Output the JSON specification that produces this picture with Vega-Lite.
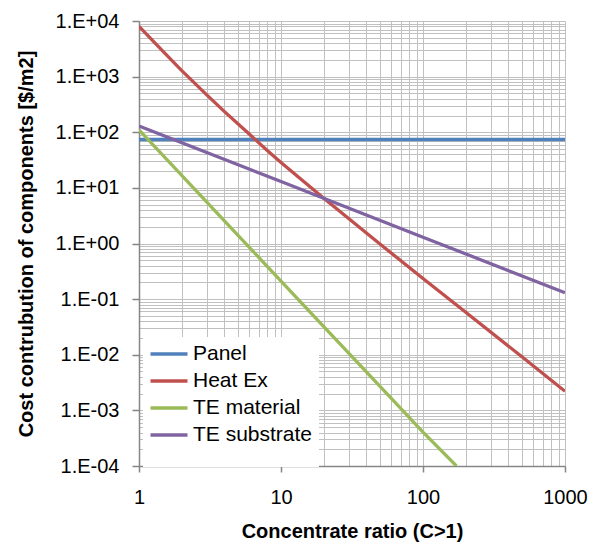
{
  "$schema": "https://vega.github.io/schema/vega-lite/v6.json",
  "width": 426,
  "height": 445,
  "autosize": {"type": "none"},
  "padding": {"left": 139, "top": 21, "right": 32, "bottom": 76},
  "background": "white",
  "config": {"view": {"stroke": null}, "font": "Liberation Sans"},
  "data": {
    "values": [
      {"series": "Panel", "C": 1, "cost": 74},
      {"series": "Panel", "C": 1000, "cost": 74},
      {"series": "Heat Ex", "C": 1, "cost": 8000},
      {"series": "Heat Ex", "C": 1.5, "cost": 2720},
      {"series": "Heat Ex", "C": 2, "cost": 1285},
      {"series": "Heat Ex", "C": 3, "cost": 470},
      {"series": "Heat Ex", "C": 4, "cost": 235},
      {"series": "Heat Ex", "C": 6, "cost": 92},
      {"series": "Heat Ex", "C": 8, "cost": 47},
      {"series": "Heat Ex", "C": 10, "cost": 28.7},
      {"series": "Heat Ex", "C": 20, "cost": 6.5},
      {"series": "Heat Ex", "C": 50, "cost": 0.97},
      {"series": "Heat Ex", "C": 100, "cost": 0.235},
      {"series": "Heat Ex", "C": 200, "cost": 0.058},
      {"series": "Heat Ex", "C": 500, "cost": 0.0091},
      {"series": "Heat Ex", "C": 1000, "cost": 0.0022},
      {"series": "TE material", "C": 1, "cost": 110},
      {"series": "TE material", "C": 5, "cost": 1.39},
      {"series": "TE material", "C": 10, "cost": 0.211},
      {"series": "TE material", "C": 20, "cost": 0.032},
      {"series": "TE material", "C": 50, "cost": 0.00267},
      {"series": "TE material", "C": 100, "cost": 0.000406},
      {"series": "TE material", "C": 172, "cost": 0.0001},
      {"series": "TE substrate", "C": 1, "cost": 130},
      {"series": "TE substrate", "C": 10, "cost": 13},
      {"series": "TE substrate", "C": 100, "cost": 1.3},
      {"series": "TE substrate", "C": 1000, "cost": 0.13}
    ]
  },
  "mark": {"type": "line", "strokeWidth": 3.3, "clip": true},
  "encoding": {
    "x": {
      "field": "C",
      "type": "quantitative",
      "scale": {"type": "log", "domain": [1, 1000], "nice": false},
      "axis": {
        "title": "Concentrate ratio (C>1)",
        "values": [1,2,3,4,5,6,7,8,9,10,20,30,40,50,60,70,80,90,100,200,300,400,500,600,700,800,900,1000],
        "labelExpr": "abs(log(datum.value)/LN10 - round(log(datum.value)/LN10)) < 0.001 ? format(datum.value, 'd') : ''",
        "grid": true,
        "gridColor": "#c0c0c0",
        "gridWidth": 1,
        "domainColor": "#868686",
        "domainWidth": 1.5,
        "tickColor": "#868686",
        "tickWidth": 1.5,
        "tickSize": 6,
        "tickOpacity": {"condition": {"test": "abs(log(datum.value)/LN10 - round(log(datum.value)/LN10)) < 0.001", "value": 1}, "value": 0},
        "labelFontSize": 20,
        "labelColor": "black",
        "labelPadding": 15,
        "labelOverlap": false,
        "labelFlush": false,
        "labelBound": false,
        "titleFontSize": 20,
        "titleFontWeight": "bold",
        "titleColor": "black",
        "titlePadding": 14
      }
    },
    "y": {
      "field": "cost",
      "type": "quantitative",
      "scale": {"type": "log", "domain": [0.0001, 10000], "nice": false},
      "axis": {
        "title": "Cost contrubution of components [$/m2]",
        "values": [0.0001,0.0002,0.0003,0.0004,0.0005,0.0006,0.0007,0.0008,0.0009,0.001,0.002,0.003,0.004,0.005,0.006,0.007,0.008,0.009,0.01,0.02,0.03,0.04,0.05,0.06,0.07,0.08,0.09,0.1,0.2,0.3,0.4,0.5,0.6,0.7,0.8,0.9,1,2,3,4,5,6,7,8,9,10,20,30,40,50,60,70,80,90,100,200,300,400,500,600,700,800,900,1000,2000,3000,4000,5000,6000,7000,8000,9000,10000],
        "labelExpr": "abs(log(datum.value)/LN10 - round(log(datum.value)/LN10)) < 0.001 ? '1.E' + (datum.value < 1 ? '-' : '+') + format(abs(round(log(datum.value)/LN10)), '02d') : ''",
        "grid": true,
        "gridColor": "#c0c0c0",
        "gridWidth": 1,
        "domainColor": "#868686",
        "domainWidth": 1.5,
        "tickColor": "#868686",
        "tickWidth": 1.5,
        "tickSize": 7,
        "tickOpacity": {"condition": {"test": "abs(log(datum.value)/LN10 - round(log(datum.value)/LN10)) < 0.001", "value": 1}, "value": 0},
        "labelFontSize": 20,
        "labelColor": "black",
        "labelPadding": 13,
        "labelOverlap": false,
        "labelFlush": false,
        "labelBound": false,
        "titleFontSize": 20,
        "titleFontWeight": "bold",
        "titleColor": "black",
        "titlePadding": 19
      }
    },
    "color": {
      "field": "series",
      "type": "nominal",
      "scale": {
        "domain": ["Panel", "Heat Ex", "TE material", "TE substrate"],
        "range": ["#4F81BD", "#C0504D", "#9BBB59", "#8064A2"]
      },
      "legend": {
        "title": " ",
        "titleOrient": "bottom",
        "titleFontSize": 10,
        "titlePadding": 6,
        "orient": "none",
        "legendX": 4,
        "legendY": 316,
        "fillColor": "white",
        "padding": 6,
        "symbolType": "M-2,0H2",
        "symbolSize": 342,
        "symbolStrokeWidth": 3.3,
        "symbolOffset": 9,
        "labelFontSize": 21,
        "labelColor": "black",
        "labelOffset": 13,
        "rowPadding": 6
      }
    }
  }
}
